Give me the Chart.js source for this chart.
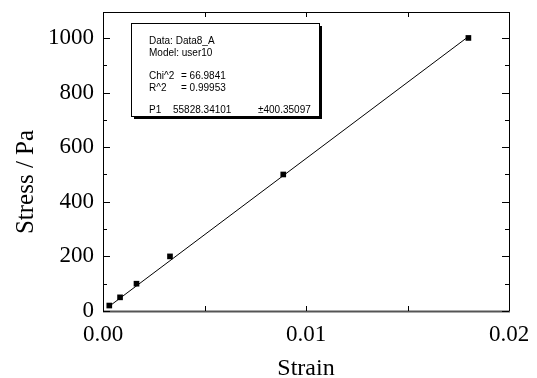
<!DOCTYPE html>
<html lang="en">
<head>
<meta charset="UTF-8">
<title>Stress vs Strain</title>
<script src="https://cdn.jsdelivr.net/npm/chart.js"></script>
<style>
  html, body { margin: 0; padding: 0; background: #fff; }
  #wrap { width: 537px; height: 378px; position: relative; }
</style>
</head>
<body>
<div id="wrap"><canvas id="c"></canvas></div>
<script>
// measured points
const strain = [0.00031, 0.00084, 0.00165, 0.0033, 0.00888, 0.0180];
const stress = [20, 50, 100, 200, 500, 1000];

// fit result, model user10: stress = P1 * strain
const P1 = 55828.34101;
const P1err = 400.35097;
const chi2 = 66.9841;
const r2 = 0.99953;

// axis ticks
const xTicks = [0, 0.01, 0.02];
const xMinor = [0.005, 0.015];
const yTicks = [0, 200, 400, 600, 800, 1000];
const yMinor = [100, 300, 500, 700, 900];

const xMin = Math.min(...strain), xMax = Math.max(...strain);
const fitLine = [
  { x: xMin, y: P1 * xMin },
  { x: xMax, y: P1 * xMax }
];

const serif = '"Liberation Serif", "Times New Roman", serif';

// box frame, inward ticks, y title and the fit info box
const frame = {
  id: 'frame',
  afterDatasetsDraw(chart) {
    const { ctx, chartArea: a, scales: { x, y } } = chart;
    ctx.save();
    ctx.strokeStyle = '#000';
    ctx.lineWidth = 1;
    ctx.beginPath();
    ctx.moveTo(a.left + 0.5, a.bottom);
    ctx.lineTo(a.left + 0.5, a.top + 0.5);
    ctx.lineTo(a.right + 0.5, a.top + 0.5);
    ctx.lineTo(a.right + 0.5, a.bottom);
    ctx.stroke();
    ctx.strokeStyle = '#555';
    ctx.lineWidth = 2;
    ctx.beginPath();
    ctx.moveTo(a.left, a.bottom + 0.5);
    ctx.lineTo(a.right + 1, a.bottom + 0.5);
    ctx.stroke();

    ctx.strokeStyle = '#000';
    ctx.lineWidth = 1;
    ctx.beginPath();
    xTicks.concat(xMinor).forEach(v => {
      const px = Math.round(x.getPixelForValue(v)) + 0.5;
      ctx.moveTo(px, a.bottom); ctx.lineTo(px, a.bottom - 5);
      ctx.moveTo(px, a.top); ctx.lineTo(px, a.top + 5);
    });
    yTicks.forEach(v => {
      const py = Math.round(y.getPixelForValue(v)) + 0.5;
      ctx.moveTo(a.left, py); ctx.lineTo(a.left + 7, py);
      ctx.moveTo(a.right, py); ctx.lineTo(a.right - 7, py);
    });
    yMinor.forEach(v => {
      const py = Math.round(y.getPixelForValue(v)) + 0.5;
      ctx.moveTo(a.left, py); ctx.lineTo(a.left + 4, py);
      ctx.moveTo(a.right, py); ctx.lineTo(a.right - 4, py);
    });
    ctx.stroke();

    // y axis title (sits a little below the plot centre)
    ctx.save();
    ctx.translate(26, 182);
    ctx.rotate(-Math.PI / 2);
    ctx.fillStyle = '#000';
    ctx.font = '25px ' + serif;
    ctx.textAlign = 'center';
    ctx.textBaseline = 'middle';
    ctx.fillText('Stress / Pa', 0, 0);
    ctx.restore();

    // fit info box
    const bx = 131, by = 23, bw = 188, bh = 93;
    ctx.fillStyle = '#000';
    ctx.fillRect(bx + 3, by + 3, bw, bh);
    ctx.fillStyle = '#fff';
    ctx.fillRect(bx, by, bw, bh);
    ctx.strokeStyle = '#000';
    ctx.strokeRect(bx + 0.5, by + 0.5, bw, bh);

    ctx.fillStyle = '#000';
    ctx.font = '10px "Liberation Sans", Arial, sans-serif';
    ctx.textBaseline = 'middle';
    ctx.textAlign = 'left';
    ctx.fillText('Data: Data8_A', 149, 41);
    ctx.fillText('Model: user10', 149, 53);
    ctx.fillText('Chi^2', 149, 76);
    ctx.fillText('= ' + chi2.toFixed(4), 181, 76);
    ctx.fillText('R^2', 149, 88);
    ctx.fillText('= ' + r2.toFixed(5), 181, 88);
    ctx.fillText('P1', 149, 110);
    ctx.fillText(P1.toFixed(5), 173, 110);
    ctx.fillText('\u00b1' + P1err.toFixed(5), 258, 110);
    ctx.restore();
  }
};

new Chart(document.getElementById('c'), {
  type: 'scatter',
  data: {
    datasets: [
      {
        label: 'Data8_A',
        data: strain.map((s, i) => ({ x: s, y: stress[i] })),
        pointStyle: 'rect',
        pointRadius: 4,
        backgroundColor: '#000',
        borderColor: '#000',
        borderWidth: 0,
        showLine: false
      },
      {
        label: 'fit',
        data: fitLine,
        showLine: true,
        borderColor: '#000',
        borderWidth: 1,
        pointRadius: 0
      }
    ]
  },
  options: {
    responsive: true,
    maintainAspectRatio: false,
    animation: false,
    layout: { padding: { top: 12, right: 28, left: 0, bottom: 0 } },
    plugins: { legend: { display: false }, tooltip: { enabled: false } },
    scales: {
      x: {
        type: 'linear',
        min: 0,
        max: 0.02,
        afterBuildTicks: s => { s.ticks = xTicks.map(v => ({ value: v })); },
        afterFit: s => { s.height = 67; s.paddingLeft = 0; s.paddingRight = 0; },
        border: { display: false },
        grid: { drawOnChartArea: false, drawTicks: false },
        ticks: {
          color: '#000',
          padding: 10,
          font: { family: serif, size: 23 },
          callback: v => v.toFixed(2)
        },
        title: {
          display: true,
          text: 'Strain',
          color: '#000',
          font: { family: serif, size: 24, lineHeight: 0.8 },
          padding: { top: 0, bottom: 0 }
        }
      },
      y: {
        type: 'linear',
        min: 0,
        max: 1095,
        afterBuildTicks: s => { s.ticks = yTicks.map(v => ({ value: v })); },
        afterFit: s => { s.width = 103; s.paddingTop = 0; s.paddingBottom = 0; },
        border: { display: false },
        grid: { drawOnChartArea: false, drawTicks: false },
        ticks: {
          color: '#000',
          padding: 9,
          font: { family: serif, size: 23 },
          callback: v => String(v)
        }
      }
    }
  },
  plugins: [frame]
});
</script>
</body>
</html>
